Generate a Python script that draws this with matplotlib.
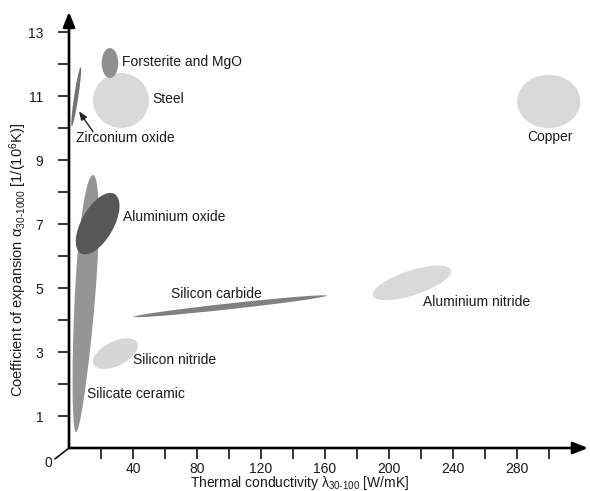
import numpy as np
import matplotlib
matplotlib.use("Agg")
import matplotlib.pyplot as plt
from matplotlib.patches import Ellipse, Polygon
from matplotlib.transforms import Affine2D

plt.rcParams['font.family'] = ['Liberation Sans', 'DejaVu Sans']
plt.rcParams['mathtext.fontset'] = 'custom'
plt.rcParams['mathtext.rm'] = 'Liberation Sans'
plt.rcParams['mathtext.it'] = 'Liberation Sans:italic'

# ---------------- data ----------------
materials = ["Steel", "Forsterite and MgO", "Zirconium oxide", "Silicate ceramic",
             "Aluminium oxide", "Silicon nitride", "Silicon carbide",
             "Aluminium nitride", "Copper"]
# major-axis end points of each property field (thermal conductivity, expansion)
lam_start = [15.0, 25.6, 1.7, 4.4, 7.4, 15.4, 40.6, 190.0, 280.0]
alpha_start = [10.86, 11.56, 10.05, 0.5, 6.08, 2.61, 4.10, 4.76, 10.83]
lam_end = [50.0, 25.6, 7.3, 15.0, 28.4, 42.7, 161.0, 238.7, 319.6]
alpha_end = [10.86, 12.50, 11.90, 8.53, 7.94, 3.29, 4.76, 5.56, 10.83]

x_ticks = [20, 40, 60, 80, 100, 120, 140, 160, 180, 200, 220, 240, 260, 280, 300]
x_tick_labels = ["", "40", "", "80", "", "120", "", "160", "", "200", "", "240", "", "280", ""]
y_ticks = [1, 2, 3, 4, 5, 6, 7, 8, 9, 10, 11, 12, 13]
y_tick_labels = ["1", "", "3", "", "5", "", "7", "", "9", "", "11", "", "13"]

# ---------------- style ----------------
width_ratio = [0.98, 0.55, 0.07, 0.078, 0.47, 0.5, 0.03, 0.30, 0.84]
colors = ["#d9d9d9", "#8f8f8f", "#737373", "#959595", "#575757",
          "#d6d6d6", "#808080", "#d9d9d9", "#d9d9d9"]
egg = [False, False, False, True, False, False, False, False, False]
label_pos = [(52.3, 10.91, 'left'), (32.9, 12.06, 'left'), (4.4, 9.69, 'left'),
             (11.4, 1.68, 'left'), (33.75, 7.23, 'left'), (40.0, 2.75, 'left'),
             (63.6, 4.81, 'left'), (221.25, 4.57, 'left'), (300.6, 9.73, 'center')]
TXT = '#1a1a1a'

W, H = 590, 491
fig = plt.figure(figsize=(W / 100, H / 100), dpi=100)
x0px, y0px = 69, 448
ax = fig.add_axes([x0px / W, (H - y0px) / H, (W - x0px) / W, (y0px - 8) / H])
xmax = (W - x0px) / 1.6
ymax = (y0px - 8) / 32.0
ax.set_xlim(0, xmax)
ax.set_ylim(0, ymax)
for s in ax.spines.values():
    s.set_visible(False)

# pixel-like scale for isotropic shapes
p0 = ax.transData.transform((0, 0))
p1 = ax.transData.transform((1, 1))
sx, sy = p1[0] - p0[0], p1[1] - p0[1]
T = Affine2D().scale(1 / sx, 1 / sy) + ax.transData

for i, name in enumerate(materials):
    P1 = np.array([lam_start[i] * sx, alpha_start[i] * sy])
    P2 = np.array([lam_end[i] * sx, alpha_end[i] * sy])
    c = (P1 + P2) / 2
    d = P2 - P1
    a = np.hypot(*d) / 2
    ang = np.arctan2(d[1], d[0])
    b = a * width_ratio[i]
    if egg[i]:
        t = np.linspace(0, 2 * np.pi, 200)
        sv = np.cos(t)
        w = b * np.sin(t) * (1 + 0.25 * sv)
        u = np.array([np.cos(ang), np.sin(ang)])
        v = np.array([-np.sin(ang), np.cos(ang)])
        pts = c + np.outer(a * sv, u) + np.outer(w, v)
        ax.add_patch(Polygon(pts, closed=True, facecolor=colors[i], edgecolor='none',
                             transform=T, clip_on=False))
    else:
        ax.add_patch(Ellipse(c, 2 * a, 2 * b, angle=np.degrees(ang), facecolor=colors[i],
                             edgecolor='none', transform=T, clip_on=False))
    lx, ly, ha = label_pos[i]
    ax.text(lx, ly, name, ha=ha, va='center', fontsize=10, color=TXT)

# zirconium arrow
ax.annotate('', xy=(6.25, 10.52), xytext=(15.0, 9.88),
            arrowprops=dict(arrowstyle='-|>,head_length=0.5,head_width=0.2', lw=1.0,
                            color='#222222', shrinkA=0, shrinkB=0, mutation_scale=10))

# axes with arrows
ax.annotate('', xy=(0, 13.63), xytext=(0, 0),
            arrowprops=dict(arrowstyle='-|>,head_length=0.45,head_width=0.18', lw=1.9,
                            color='black', shrinkA=0, shrinkB=0, mutation_scale=20),
            annotation_clip=False)
ax.annotate('', xy=(324.4, 0), xytext=(0, 0),
            arrowprops=dict(arrowstyle='-|>,head_length=0.45,head_width=0.18', lw=1.9,
                            color='black', shrinkA=0, shrinkB=0, mutation_scale=20),
            annotation_clip=False)

ax.set_xticks(x_ticks)
ax.set_xticklabels(x_tick_labels)
ax.set_yticks(y_ticks)
ax.set_yticklabels(y_tick_labels)
ax.tick_params(axis='x', direction='out', length=8, width=1.1, pad=2, labelsize=10,
               labelcolor=TXT, color='black')
ax.tick_params(axis='y', direction='out', length=8, width=1.1, pad=10.5, labelsize=10,
               labelcolor=TXT, color='black')

# origin label with diagonal stub
ax.plot([-8.75, 0], [-0.34, 0], color='black', lw=1.1, clip_on=False)
ax.text(-12.9, -0.46, "0", ha='center', va='center', fontsize=10, color=TXT, clip_on=False)

fig.text(300 / W, 1 - 487.5 / H, "Thermal conductivity λ$_{\\text{30-100}}$ [W/mK]",
         ha='center', va='baseline', fontsize=10, color=TXT)
fig.text(18 / W, 1 - 260 / H, "Coefficient of expansion α$_{\\text{30-1000}}$ [1/(10$^{\\text{6}}$K)]",
         ha='center', va='center', fontsize=10.5, color=TXT, rotation=90)

fig.savefig("out.png", dpi=100)
